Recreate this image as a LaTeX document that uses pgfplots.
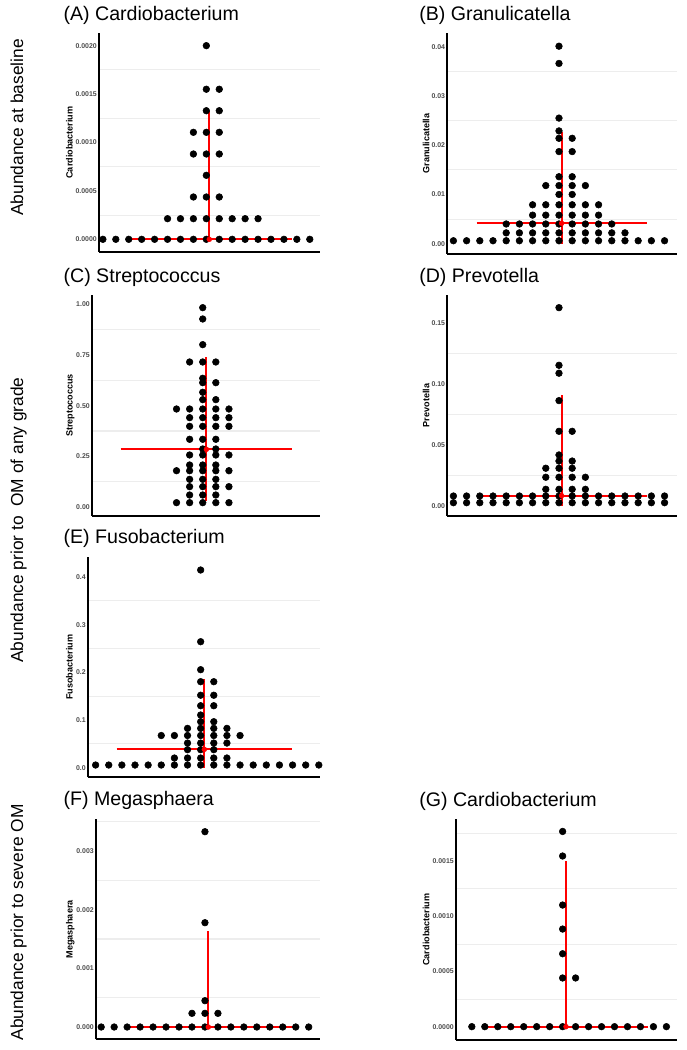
\documentclass[border=0pt]{standalone}
\usepackage{pgfplots}
\pgfplotsset{compat=1.18}
\usepackage{fontspec}
\setmainfont{Liberation Sans}
\pgfplotsset{
  panel/.style={
    scale only axis, anchor=south west,
    axis x line*=bottom, axis y line*=left,
    axis line style={line width=1.3pt, black},
    xtick=\empty,
    major tick length=0pt, minor tick length=0pt,
    yminorgrids=true, ymajorgrids=false,
    minor grid style={line width=0.8pt, color=black!7},
    scaled y ticks=false,
    yticklabel style={font=\fontsize{5.2}{6}\selectfont\bfseries, text=black!70, inner sep=1.5pt},
    clip=true,
  },
  dots/.style={only marks, mark=*, mark size=2.5pt, black},
  redl/.style={red, line width=1.5pt},
  redp/.style={only marks, mark=*, red, mark size=1.8pt},
}
\newcommand{\ylab}[3]{\node[rotate=90, anchor=base, inner sep=0pt, font=\fontsize{6.8}{8}\selectfont\bfseries] at (#1,#2) {#3};}
\newcommand{\ttl}[3]{\node[anchor=base west, inner sep=0pt, font=\fontsize{14.7}{17}\selectfont] at (#1,#2) {#3};}
\newcommand{\rowlab}[2]{\node[rotate=90, anchor=base, inner sep=0pt, font=\fontsize{13}{15}\selectfont] at (17.25pt,#1) {#2};}
\begin{document}
\begin{tikzpicture}
\path[use as bounding box] (0,0) rectangle (514.5pt,787.5pt);

% (A)
\begin{axis}[panel, at={(74.25pt,598.5pt)}, width=165.75pt, height=164.25pt,
  xmin=-8.30, xmax=8.79, ymin=-0.000131, ymax=0.002131,
  ytick={0,0.0005,0.001,0.0015,0.002}, yticklabels={0.0000,0.0005,0.0010,0.0015,0.0020},
  minor ytick={0.00025,0.00075,0.00125,0.00175}]
\addplot[dots] coordinates {
(0,0.0020)
(0,0.00155) (1,0.00155)
(0,0.001328) (1,0.001328)
(-1,0.001105) (0,0.001105) (1,0.001105)
(-1,0.000881) (0,0.000881) (1,0.000881)
(0,0.000661)
(-1,0.000437) (0,0.000437) (1,0.000437)
(-3,0.000213) (-2,0.000213) (-1,0.000213) (0,0.000213) (1,0.000213) (2,0.000213) (3,0.000213) (4,0.000213)
(-8,0) (-7,0) (-6,0) (-5,0) (-4,0) (-3,0) (-2,0) (-1,0) (0,0) (1,0) (2,0) (3,0) (4,0) (5,0) (6,0) (7,0) (8,0) (9,0)
};
\addplot[redl] coordinates {(-6.0,0) (6.6,0)};
\addplot[redl] coordinates {(0.23,0) (0.23,0.001325)};
\addplot[redp] coordinates {(0.23,0)};
\end{axis}

% (B)
\begin{axis}[panel, at={(335.5pt,597pt)}, width=172.05pt, height=165.75pt,
  xmin=-8.46, xmax=8.92, ymin=-0.00209, ymax=0.04278,
  ytick={0,0.01,0.02,0.03,0.04}, yticklabels={0.00,0.01,0.02,0.03,0.04},
  minor ytick={0.005,0.015,0.025,0.035}]
\addplot[dots] coordinates {
(0,0.0401) (0,0.0366) (0,0.0255) (0,0.0229)
(0,0.0214) (1,0.0214)
(0,0.0187) (1,0.0187)
(0,0.0136) (1,0.0136)
(-1,0.0118) (0,0.0118) (1,0.0118) (2,0.0118)
(0,0.0100) (1,0.0100)
(-2,0.0079) (-1,0.0079) (0,0.0079) (1,0.0079) (2,0.0079) (3,0.0079)
(-2,0.0058) (-1,0.0058) (0,0.0058) (1,0.0058) (2,0.0058) (3,0.0058)
(-4,0.0040) (-3,0.0040) (-2,0.0040) (-1,0.0040) (0,0.0040) (1,0.0040) (2,0.0040) (3,0.0040) (4,0.0040)
(-4,0.0022) (-3,0.0022) (-2,0.0022) (-1,0.0022) (0,0.0022) (1,0.0022) (2,0.0022) (3,0.0022) (4,0.0022) (5,0.0022)
(-8,0.0006) (-7,0.0006) (-6,0.0006) (-5,0.0006) (-4,0.0006) (-3,0.0006) (-2,0.0006) (-1,0.0006) (0,0.0006) (1,0.0006) (2,0.0006) (3,0.0006) (4,0.0006) (5,0.0006) (6,0.0006) (7,0.0006) (8,0.0006)
};
\addplot[redl] coordinates {(-6.24,0.00414) (6.69,0.00414)};
\addplot[redl] coordinates {(0.2,0) (0.2,0.0227)};
\addplot[redp] coordinates {(0.2,0.00414)};
\end{axis}

% (C)
\begin{axis}[panel, at={(69pt,400.5pt)}, width=171pt, height=165.75pt,
  xmin=-8.45, xmax=8.95, ymin=-0.0444, ymax=1.046,
  ytick={0,0.25,0.5,0.75,1}, yticklabels={0.00,0.25,0.50,0.75,1.00},
  minor ytick={0.125,0.375,0.625,0.875}]
\addplot[dots] coordinates {
(0,0.9835) (0,0.9276) (0,0.801)
(-1,0.7154) (0,0.7154) (1,0.7154)
(0,0.635)
(0,0.6134) (1,0.6134)
(0,0.566)
(0,0.5296) (1,0.5296)
(-2,0.4835) (-1,0.4835) (0,0.4835) (1,0.4835) (2,0.4835)
(-1,0.4408) (0,0.4408) (1,0.4408) (2,0.4408)
(-1,0.398) (0,0.398) (1,0.398) (2,0.398)
(-1,0.334) (0,0.334) (1,0.334)
(0,0.2862) (1,0.2862)
(-1,0.2566) (0,0.2566) (1,0.2566) (2,0.2566)
(-1,0.2072) (0,0.2072) (1,0.2072)
(-2,0.179) (-1,0.179) (0,0.179) (1,0.179) (2,0.179)
(-1,0.1365) (0,0.1365) (1,0.1365)
(-1,0.1003) (0,0.1003) (1,0.1003) (2,0.1003)
(-1,0.0592) (0,0.0592) (1,0.0592)
(-2,0.0214) (-1,0.0214) (0,0.0214) (1,0.0214) (2,0.0214)
};
\addplot[redl] coordinates {(-6.26,0.2846) (6.84,0.2846)};
\addplot[redl] coordinates {(0.28,0.031) (0.28,0.7386)};
\addplot[redp] coordinates {(0.28,0.2846)};
\end{axis}

% (D)
\begin{axis}[panel, at={(335.5pt,400.5pt)}, width=172.05pt, height=165.75pt,
  xmin=-8.46, xmax=8.92, ymin=-0.00821, ymax=0.1732,
  ytick={0,0.05,0.1,0.15}, yticklabels={0.00,0.05,0.10,0.15},
  minor ytick={0.025,0.075,0.125}]
\addplot[dots] coordinates {
(0,0.1628) (0,0.1155) (0,0.109) (0,0.0865)
(0,0.0613) (1,0.0613)
(0,0.0419)
(0,0.0369) (1,0.0369)
(-1,0.031) (0,0.031) (1,0.031)
(-1,0.0236) (0,0.0236) (1,0.0236) (2,0.0236)
(-1,0.0137) (0,0.0137) (1,0.0137) (2,0.0137)
(-8,0.0082) (-7,0.0082) (-6,0.0082) (-5,0.0082) (-4,0.0082) (-3,0.0082) (-2,0.0082) (-1,0.0082) (0,0.0082) (1,0.0082) (2,0.0082) (3,0.0082) (4,0.0082) (5,0.0082) (6,0.0082) (7,0.0082) (8,0.0082)
(-8,0.0027) (-7,0.0027) (-6,0.0027) (-5,0.0027) (-4,0.0027) (-3,0.0027) (-2,0.0027) (-1,0.0027) (0,0.0027) (1,0.0027) (2,0.0027) (3,0.0027) (4,0.0027) (5,0.0027) (6,0.0027) (7,0.0027) (8,0.0027) (9,0.0027)
};
\addplot[redl] coordinates {(-6.24,0.0085) (6.69,0.0085)};
\addplot[redl] coordinates {(0.2,0) (0.2,0.0911)};
\addplot[redp] coordinates {(0.2,0.0085)};
\end{axis}

% (E)
\begin{axis}[panel, at={(66pt,204.5pt)}, width=174pt, height=165pt,
  xmin=-8.58, xmax=9.09, ymin=-0.0202, ymax=0.4413,
  ytick={0,0.1,0.2,0.3,0.4}, yticklabels={0.0,0.1,0.2,0.3,0.4},
  minor ytick={0.05,0.15,0.25,0.35}]
\addplot[dots] coordinates {
(0,0.4147) (0,0.2643) (0,0.2056)
(0,0.1804) (1,0.1804)
(0,0.1520) (1,0.1520)
(0,0.1300) (1,0.1300)
(0,0.1105)
(0,0.0965) (1,0.0965)
(-1,0.0825) (0,0.0825) (1,0.0825) (2,0.0825)
(-3,0.0675) (-2,0.0675) (-1,0.0675) (0,0.0675) (1,0.0675) (2,0.0675) (3,0.0675)
(-1,0.0517) (0,0.0517) (1,0.0517) (2,0.0517)
(-1,0.0378) (0,0.0378) (1,0.0378)
(-2,0.0203) (-1,0.0203) (0,0.0203) (1,0.0203) (2,0.0203)
(-8,0.0056) (-7,0.0056) (-6,0.0056) (-5,0.0056) (-4,0.0056) (-3,0.0056) (-2,0.0056) (-1,0.0056) (0,0.0056) (1,0.0056) (2,0.0056) (3,0.0056) (4,0.0056) (5,0.0056) (6,0.0056) (7,0.0056) (8,0.0056) (9,0.0056)
};
\addplot[redl] coordinates {(-6.4,0.0385) (6.93,0.0385)};
\addplot[redl] coordinates {(0.28,0) (0.28,0.1853)};
\addplot[redp] coordinates {(0.28,0.0385)};
\end{axis}

% (F)
\begin{axis}[panel, at={(72pt,8pt)}, width=168pt, height=165pt,
  xmin=-8.40, xmax=8.87, ymin=-0.00021, ymax=0.00354,
  ytick={0,0.001,0.002,0.003}, yticklabels={0.000,0.001,0.002,0.003},
  minor ytick={0.0005,0.0015,0.0025,0.0035}]
\addplot[dots] coordinates {
(0,0.003329) (0,0.001778) (0,0.000449)
(-1,0.000233) (0,0.000233) (1,0.000233)
(-8,0) (-7,0) (-6,0) (-5,0) (-4,0) (-3,0) (-2,0) (-1,0) (0,0) (1,0) (2,0) (3,0) (4,0) (5,0) (6,0) (7,0) (8,0)
};
\addplot[redl] coordinates {(-6.25,0) (6.81,0)};
\addplot[redl] coordinates {(0.26,0) (0.26,0.001642)};
\addplot[redp] coordinates {(0.26,0)};
\end{axis}

% (G)
\begin{axis}[panel, at={(342pt,7.5pt)}, width=165.5pt, height=165.5pt,
  xmin=-8.22, xmax=8.79, ymin=-0.000121, ymax=0.001882,
  ytick={0,0.0005,0.001,0.0015}, yticklabels={0.0000,0.0005,0.0010,0.0015},
  minor ytick={0.00025,0.00075,0.00125,0.00175}]
\addplot[dots] coordinates {
(0,0.001772) (0,0.001549) (0,0.001104) (0,0.000886) (0,0.000662)
(0,0.000442) (1,0.000442)
(-7,0) (-6,0) (-5,0) (-4,0) (-3,0) (-2,0) (-1,0) (0,0) (1,0) (2,0) (3,0) (4,0) (5,0) (6,0) (7,0) (8,0)
};
\addplot[redl] coordinates {(-5.99,0) (6.6,0)};
\addplot[redl] coordinates {(0.26,0) (0.26,0.001503)};
\addplot[redp] coordinates {(0.26,0)};
\end{axis}

% y labels
\ylab{54.5pt}{680.6pt}{Cardiobacterium}
\ylab{322pt}{679.9pt}{Granulicatella}
\ylab{54.5pt}{483.4pt}{Streptococcus}
\ylab{322pt}{483.4pt}{Prevotella}
\ylab{54.5pt}{287pt}{Fusobacterium}
\ylab{54.5pt}{90.5pt}{Megasphaera}
\ylab{322pt}{90.3pt}{Cardiobacterium}

% titles
\ttl{47.5pt}{772pt}{(A) Cardiobacterium}
\ttl{314.25pt}{772pt}{(B) Granulicatella}
\ttl{47.5pt}{575.5pt}{(C) Streptococcus}
\ttl{314.25pt}{575.5pt}{(D) Prevotella}
\ttl{47.5pt}{379.5pt}{(E) Fusobacterium}
\ttl{47.5pt}{183pt}{(F) Megasphaera}
\ttl{314.25pt}{182.5pt}{(G) Cardiobacterium}

% row labels
\rowlab{691.9pt}{Abundance at baseline}
\rowlab{397.5pt}{Abundance prior to\ \ OM of any grade}
\rowlab{95.6pt}{Abundance prior to severe OM}
\end{tikzpicture}
\end{document}
